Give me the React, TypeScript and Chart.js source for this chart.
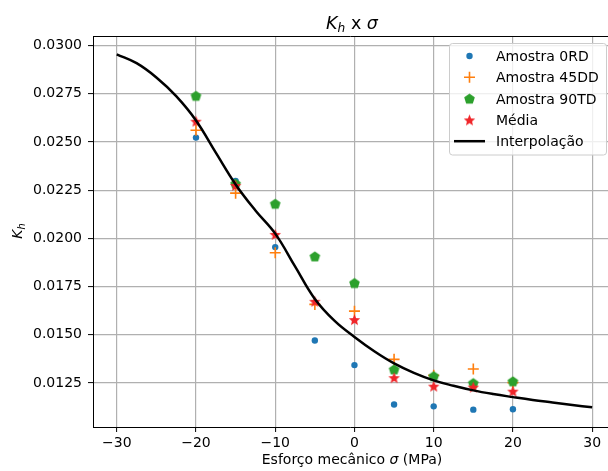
import React, { useEffect, useRef } from "react";
import { Chart, registerables } from "chart.js";

Chart.register(...registerables);

// ---- data ----
const sigma = [-20, -15, -10, -5, 0, 5, 10, 15, 20];
const amostra0RD = [0.02523, 0.02298, 0.01955, 0.01471, 0.01343, 0.01139, 0.01129, 0.01112, 0.01114];
const amostra45DD = [0.02561, 0.02235, 0.01926, 0.01658, 0.01623, 0.01373, 0.0129, 0.01323, 0.01252];
const amostra90TD = [0.0274, 0.02284, 0.0218, 0.01907, 0.01769, 0.01321, 0.01286, 0.0125, 0.01259];
const media = [0.02608, 0.02275, 0.02021, 0.01674, 0.01579, 0.01278, 0.01234, 0.01229, 0.01208];

const sigmaInterp = [-30, -27.5, -25, -22.5, -20, -17.5, -15, -12.5, -10, -7.5, -5, -2.5, 0, 2.5, 5, 7.5, 10, 12.5, 15, 17.5, 20, 22.5, 25, 27.5, 30];
const kInterp = [0.02955, 0.02909, 0.02835, 0.02738, 0.02612, 0.02445, 0.0228, 0.02145, 0.02025, 0.01855, 0.01686, 0.01572, 0.01489, 0.01415, 0.01352, 0.01303, 0.01264, 0.01236, 0.01212, 0.01193, 0.01177, 0.01162, 0.01149, 0.01136, 0.01124];

const xTicks = [-30, -20, -10, 0, 10, 20, 30];
const yTicks = [0.0125, 0.015, 0.0175, 0.02, 0.0225, 0.025, 0.0275, 0.03];

const legendLabels = ["Amostra 0RD", "Amostra 45DD", "Amostra 90TD", "Média", "Interpolação"];

const BLUE = "#1f77b4";
const ORANGE = "#ff7f0e";
const GREEN = "#2ca02c";
const RED = "#f0262a";
const FONT = "DejaVu Sans";

function makePentagon(r: number, color: string) {
  const size = Math.ceil(2 * r + 3);
  const c = document.createElement("canvas");
  c.width = size;
  c.height = size;
  const ctx = c.getContext("2d")!;
  const cx = size / 2;
  const cy = size / 2 + r * 0.1;
  ctx.beginPath();
  for (let i = 0; i < 5; i++) {
    const a = -Math.PI / 2 + (i * 2 * Math.PI) / 5;
    const x = cx + r * Math.cos(a);
    const y = cy + r * Math.sin(a);
    if (i === 0) ctx.moveTo(x, y);
    else ctx.lineTo(x, y);
  }
  ctx.closePath();
  ctx.fillStyle = color;
  ctx.fill();
  return c;
}

function makeStar(r: number, color: string) {
  const size = Math.ceil(2 * r + 3);
  const c = document.createElement("canvas");
  c.width = size;
  c.height = size;
  const ctx = c.getContext("2d")!;
  const cx = size / 2;
  const cy = size / 2 + r * 0.1;
  const ri = r * 0.45;
  ctx.beginPath();
  for (let i = 0; i < 10; i++) {
    const a = -Math.PI / 2 + (i * Math.PI) / 5;
    const rr = i % 2 === 0 ? r : ri;
    const x = cx + rr * Math.cos(a);
    const y = cy + rr * Math.sin(a);
    if (i === 0) ctx.moveTo(x, y);
    else ctx.lineTo(x, y);
  }
  ctx.closePath();
  ctx.fillStyle = color;
  ctx.fill();
  return c;
}

function fmtMinus(v: number, digits: number) {
  const s = Math.abs(v).toFixed(digits);
  return v < 0 ? "\u2212" + s : s;
}

export default function App() {
  const ref = useRef<HTMLCanvasElement | null>(null);

  useEffect(() => {
    const canvas = ref.current;
    if (!canvas) return;
    const pent = makePentagon(5.6, GREEN);
    const star = makeStar(6, RED);

    const pts = (xs: number[], ys: number[]) => xs.map((x, i) => ({ x, y: ys[i] }));

    const decorPlugin = {
      id: "decor",
      afterDraw(chart: any) {
        const ctx = chart.ctx as CanvasRenderingContext2D;
        const area = chart.chartArea;
        ctx.save();
        // top spine
        ctx.strokeStyle = "#000";
        ctx.lineWidth = 1;
        ctx.beginPath();
        ctx.moveTo(area.left, Math.round(area.top) + 0.5);
        ctx.lineTo(area.right, Math.round(area.top) + 0.5);
        ctx.stroke();

        ctx.fillStyle = "#000";
        ctx.textBaseline = "alphabetic";
        // Title: K_h x σ
        {
          const big = `italic 17.5px '${FONT}'`;
          const sub = `italic 12.2px '${FONT}'`;
          const norm = `17.5px '${FONT}'`;
          ctx.font = big;
          const wK = ctx.measureText("K").width;
          ctx.font = sub;
          const wh = ctx.measureText("h").width;
          ctx.font = norm;
          const wx = ctx.measureText(" x ").width;
          ctx.font = big;
          const ws = ctx.measureText("σ").width;
          const total = wK + wh + wx + ws;
          let x = 352 - total / 2;
          const y = 28.5;
          ctx.textAlign = "left";
          ctx.font = big;
          ctx.fillText("K", x, y);
          x += wK;
          ctx.font = sub;
          ctx.fillText("h", x, y + 3);
          x += wh;
          ctx.font = norm;
          ctx.fillText(" x ", x, y);
          x += wx;
          ctx.font = big;
          ctx.fillText("σ", x, y);
        }
        // X label
        {
          const norm = `14px '${FONT}'`;
          const it = `italic 14px '${FONT}'`;
          const a = "Esforço mecânico ";
          const b = "σ";
          const c = " (MPa)";
          ctx.font = norm;
          const wa = ctx.measureText(a).width;
          const wc = ctx.measureText(c).width;
          ctx.font = it;
          const wb = ctx.measureText(b).width;
          let x = 352 - (wa + wb + wc) / 2;
          const y = 463.5;
          ctx.font = norm;
          ctx.fillText(a, x, y);
          x += wa;
          ctx.font = it;
          ctx.fillText(b, x, y);
          x += wb;
          ctx.font = norm;
          ctx.fillText(c, x, y);
        }
        // Y label
        {
          ctx.save();
          ctx.translate(22, 231);
          ctx.rotate(-Math.PI / 2);
          const big = `italic 14px '${FONT}'`;
          const sub = `italic 9.8px '${FONT}'`;
          ctx.font = big;
          const wK = ctx.measureText("K").width;
          ctx.font = sub;
          const wh = ctx.measureText("h").width;
          let x = -(wK + wh) / 2;
          ctx.font = big;
          ctx.fillText("K", x, 0);
          x += wK;
          ctx.font = sub;
          ctx.fillText("h", x, 2.5);
          ctx.restore();
        }
        // Legend
        {
          const bx = 449.5, by = 43.5, bw = 157, bh = 111.5, r = 3;
          ctx.beginPath();
          ctx.moveTo(bx + r, by);
          ctx.lineTo(bx + bw - r, by);
          ctx.arcTo(bx + bw, by, bx + bw, by + r, r);
          ctx.lineTo(bx + bw, by + bh - r);
          ctx.arcTo(bx + bw, by + bh, bx + bw - r, by + bh, r);
          ctx.lineTo(bx + r, by + bh);
          ctx.arcTo(bx, by + bh, bx, by + bh - r, r);
          ctx.lineTo(bx, by + r);
          ctx.arcTo(bx, by, bx + r, by, r);
          ctx.closePath();
          ctx.fillStyle = "rgba(255,255,255,0.8)";
          ctx.fill();
          ctx.strokeStyle = "#cccccc";
          ctx.lineWidth = 1;
          ctx.stroke();

          const mx = 469.5;
          const tx = 496;
          ctx.font = `14px '${FONT}'`;
          ctx.fillStyle = "#000";
          legendLabels.forEach((lab, i) => {
            const cy = 56 + i * 21.3;
            if (i === 0) {
              ctx.beginPath();
              ctx.arc(mx, cy, 3.2, 0, Math.PI * 2);
              ctx.fillStyle = BLUE;
              ctx.fill();
            } else if (i === 1) {
              ctx.strokeStyle = ORANGE;
              ctx.lineWidth = 1.6;
              ctx.beginPath();
              ctx.moveTo(mx - 5.5, cy);
              ctx.lineTo(mx + 5.5, cy);
              ctx.moveTo(mx, cy - 5.5);
              ctx.lineTo(mx, cy + 5.5);
              ctx.stroke();
            } else if (i === 2) {
              ctx.drawImage(pent, mx - pent.width / 2, cy - pent.height / 2);
            } else if (i === 3) {
              ctx.drawImage(star, mx - star.width / 2, cy - star.height / 2);
            } else {
              ctx.strokeStyle = "#000";
              ctx.lineWidth = 2.5;
              ctx.beginPath();
              ctx.moveTo(454, cy);
              ctx.lineTo(485, cy);
              ctx.stroke();
            }
            ctx.fillStyle = "#000";
            ctx.fillText(lab, tx, cy + 5);
          });
        }
        ctx.restore();
      },
    };

    const chart = new Chart(canvas, {
      type: "scatter",
      data: {
        datasets: [
          {
            label: legendLabels[0],
            data: pts(sigma, amostra0RD),
            backgroundColor: BLUE,
            borderColor: BLUE,
            pointRadius: 3.2,
            pointStyle: "circle",
            borderWidth: 0,
            order: 5,
          },
          {
            label: legendLabels[1],
            data: pts(sigma, amostra45DD),
            backgroundColor: ORANGE,
            borderColor: ORANGE,
            pointRadius: 5.5,
            pointStyle: "cross",
            borderWidth: 1.6,
            order: 4,
          },
          {
            label: legendLabels[2],
            data: pts(sigma, amostra90TD),
            backgroundColor: GREEN,
            borderColor: GREEN,
            pointStyle: pent as any,
            pointRadius: 6,
            order: 3,
          },
          {
            label: legendLabels[3],
            data: pts(sigma, media),
            backgroundColor: RED,
            borderColor: RED,
            pointStyle: star as any,
            pointRadius: 6,
            order: 2,
          },
          {
            label: legendLabels[4],
            data: pts(sigmaInterp, kInterp),
            showLine: true,
            borderColor: "#000",
            backgroundColor: "#000",
            borderWidth: 2.5,
            pointRadius: 0,
            tension: 0.4,
            order: 1,
          } as any,
        ],
      },
      options: {
        responsive: false,
        animation: false,
        events: [],
        layout: { autoPadding: false, padding: { top: 36, right: 0, left: 0, bottom: 0 } },
        plugins: {
          legend: { display: false },
          title: { display: false },
          tooltip: { enabled: false },
        },
        scales: {
          x: {
            type: "linear",
            min: -33,
            max: 32,
            afterBuildTicks: (scale: any) => {
              scale.ticks = xTicks.map((v) => ({ value: v }));
            },
            afterFit: (scale: any) => {
              scale.height = 44;
              scale.paddingLeft = 0;
              scale.paddingRight = 0;
            },
            ticks: {
              color: "#000",
              font: { family: FONT, size: 14 },
              padding: 3,
              maxRotation: 0,
              autoSkip: false,
              callback: (v: any) => fmtMinus(Number(v), 0),
            },
            grid: {
              color: "#b0b0b0",
              lineWidth: 1.2,
              tickColor: "#000",
              tickLength: 5,
              tickWidth: 1,
            },
            border: { display: true, color: "#000", width: 1 },
          },
          y: {
            type: "linear",
            min: 0.01022,
            max: 0.0305,
            afterBuildTicks: (scale: any) => {
              scale.ticks = yTicks.map((v) => ({ value: v }));
            },
            afterFit: (scale: any) => {
              scale.width = 93;
              scale.paddingTop = 0;
              scale.paddingBottom = 0;
            },
            ticks: {
              color: "#000",
              font: { family: FONT, size: 14 },
              padding: 6,
              autoSkip: false,
              callback: (v: any) => Number(v).toFixed(4),
            },
            grid: {
              color: "#b0b0b0",
              lineWidth: 1.2,
              tickColor: "#000",
              tickLength: 5,
              tickWidth: 1,
            },
            border: { display: true, color: "#000", width: 1 },
          },
        },
      },
      plugins: [decorPlugin],
    });

    return () => chart.destroy();
  }, []);

  return (
    <div style={{ position: "absolute", left: 0, top: 0, width: 608, height: 471, background: "#fff" }}>
      <canvas ref={ref} width={608} height={471} style={{ display: "block", width: 608, height: 471 }} />
    </div>
  );
}
